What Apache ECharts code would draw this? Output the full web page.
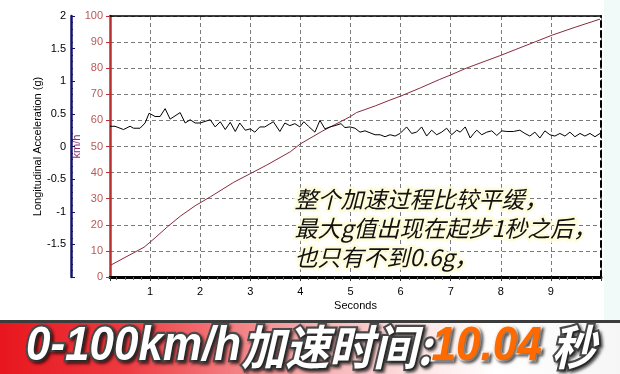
<!DOCTYPE html>
<html><head><meta charset="utf-8">
<script src="https://cdn.jsdelivr.net/npm/echarts@6/dist/echarts.min.js"></script>
<style>html,body{margin:0;padding:0;background:#fff}#c{width:620px;height:374px}</style>
</head><body><div id="c"></div>
<script>
// Speed trace (km/h) vs time (s)
const speedTime = [0.22, 0.5, 0.88, 1.1, 1.35, 1.61, 1.9, 2.21, 2.67, 3.0, 3.33, 3.8, 4.0, 4.43, 4.69, 5.0, 5.12, 5.5, 5.79, 6.0, 6.4, 6.78, 7.0, 7.31, 7.97, 8.3, 8.7, 9.03, 9.5, 9.98];
const speedKmh  = [4.6, 7.5, 11.4, 15.0, 19.3, 23.4, 27.3, 30.8, 36.3, 39.6, 42.9, 48.0, 51.0, 55.8, 58.4, 61.5, 63.0, 65.6, 67.8, 69.3, 72.5, 75.7, 77.4, 80.0, 84.7, 87.2, 90.2, 92.7, 95.8, 98.8];
// Longitudinal acceleration (g) vs time (s)
const accelTime = [0.20,0.30,0.47,0.60,0.67,0.80,0.90,0.98,1.10,1.20,1.30,1.40,1.60,1.70,1.80,1.90,2.00,2.20,2.30,2.40,2.50,2.60,2.70,2.79,2.90,3.00,3.09,3.19,3.29,3.46,3.59,3.69,3.79,3.89,3.99,4.07,4.16,4.29,4.39,4.49,4.59,4.69,4.81,4.89,4.99,5.09,5.19,5.29,5.39,5.49,5.59,5.69,5.79,5.89,5.99,6.12,6.22,6.32,6.42,6.52,6.62,6.72,6.82,6.92,7.02,7.12,7.19,7.29,7.39,7.46,7.52,7.62,7.72,7.82,7.92,8.02,8.12,8.25,8.38,8.48,8.58,8.68,8.78,8.88,8.98,9.08,9.18,9.28,9.38,9.48,9.58,9.68,9.78,9.88,9.98];
const accelG    = [0.31,0.31,0.26,0.31,0.28,0.28,0.36,0.51,0.46,0.46,0.58,0.42,0.52,0.36,0.41,0.36,0.36,0.41,0.30,0.38,0.26,0.37,0.23,0.36,0.25,0.27,0.22,0.30,0.30,0.38,0.23,0.36,0.32,0.35,0.30,0.38,0.31,0.22,0.40,0.27,0.30,0.32,0.35,0.29,0.30,0.28,0.22,0.24,0.21,0.18,0.18,0.15,0.18,0.16,0.20,0.30,0.20,0.22,0.30,0.16,0.25,0.18,0.22,0.28,0.18,0.25,0.22,0.30,0.13,0.20,0.25,0.18,0.22,0.24,0.17,0.24,0.23,0.23,0.25,0.20,0.16,0.22,0.13,0.24,0.18,0.16,0.20,0.16,0.22,0.15,0.20,0.16,0.20,0.15,0.20];
// Tick labels
const xTickLabels = [1, 2, 3, 4, 5, 6, 7, 8, 9];
const gTickLabels = ['2', '1.5', '1', '0.5', '0', '-0.5', '-1', '-1.5'];
// Texts
const annotationLines = ['整个加速过程比较平缓，', '最大g值出现在起步1秒之后，', '也只有不到0.6g，'];
const bannerParts = ['0-100km/h', '加速时间:', '10.04', ' 秒'];

const speedData = speedTime.map((t, i) => [t, speedKmh[i]]);
const accelData = accelTime.map((t, i) => [t, accelG[i]]);
const FONT = 'Liberation Sans, Arial, sans-serif';
const grid = '#7a7a7a';
const outline = {stroke: '#4a4a4a', lineWidth: 4, strokeFirst: true,
  textShadowColor: 'rgba(0,0,0,0.55)', textShadowBlur: 3, textShadowOffsetX: 2, textShadowOffsetY: 2};

const chart = echarts.init(document.getElementById('c'), null, {renderer: 'canvas'});
chart.setOption({
  animation: false,
  backgroundColor: '#fff',
  grid: {left: 110, right: 19, top: 16, bottom: 97, show: false},
  xAxis: [{
    type: 'value', min: 0.2, max: 10, splitNumber: 10, position: 'bottom',
    axisLine: {show: true, onZero: false, lineStyle: {color: '#000', width: 3}},
    axisTick: {show: true, length: 4, lineStyle: {color: '#333'}},
    minorTick: {show: true, splitNumber: 6, length: 3, lineStyle: {color: '#666'}},
    axisLabel: {color: '#000', fontSize: 11, fontFamily: FONT, margin: 9,
      formatter: v => xTickLabels.includes(Math.round(v * 100) / 100) ? String(v) : ''},
    splitLine: {show: true, lineStyle: {type: [4, 3], color: grid, width: 1}},
    name: 'Seconds', nameLocation: 'middle', nameGap: 23, nameMoveOverlap: false,
    nameTextStyle: {color: '#000', fontSize: 11, fontFamily: FONT}
  }, {
    type: 'value', min: 0.2, max: 10, position: 'top',
    axisLine: {show: true, onZero: false, lineStyle: {color: '#000', width: 1.5}},
    axisTick: {show: false}, axisLabel: {show: false}, splitLine: {show: false}
  }],
  yAxis: [{
    type: 'value', min: 0, max: 100, interval: 10, position: 'left', offset: 0,
    axisLine: {show: true, onZero: false, lineStyle: {color: '#b83030', width: 2.5}},
    axisTick: {show: true, length: 4, lineStyle: {color: '#b83030'}},
    axisLabel: {color: '#b85858', fontSize: 11, fontFamily: FONT, margin: 7},
    splitLine: {show: true, lineStyle: {type: [4, 3], color: grid, width: 1}},
    name: 'km/h', nameLocation: 'middle', nameGap: 28, nameRotate: 90, nameMoveOverlap: false,
    nameTextStyle: {color: '#8a2a72', fontSize: 11, fontFamily: FONT}
  }, {
    type: 'value', min: -2, max: 2, interval: 0.5, position: 'left', offset: 39,
    axisLine: {show: true, onZero: false, lineStyle: {color: '#14146e', width: 2.5}},
    axisTick: {show: true, inside: true, length: 4, lineStyle: {color: '#14146e'}},
    minorTick: {show: true, splitNumber: 5, length: 2, lineStyle: {color: '#14146e'}},
    axisLabel: {color: '#000', fontSize: 11, fontFamily: FONT, margin: 5,
      formatter: v => gTickLabels.includes(String(v)) ? String(v) : ''},
    splitLine: {show: false},
    name: 'Longitudinal Acceleration (g)', nameLocation: 'middle', nameGap: 28, nameRotate: 90, nameMoveOverlap: false,
    nameTextStyle: {color: '#000', fontSize: 11, fontFamily: FONT}
  }, {
    type: 'value', min: 0, max: 1, position: 'right',
    axisLine: {show: true, onZero: false, lineStyle: {color: '#000', width: 2, type: [6, 4]}},
    axisTick: {show: false}, axisLabel: {show: false}, splitLine: {show: false}
  }],
  series: [{
    name: 'Speed', type: 'line', xAxisIndex: 0, yAxisIndex: 0, data: speedData,
    showSymbol: false, smooth: false, lineStyle: {color: '#8a2a3c', width: 1}, z: 3
  }, {
    name: 'Acceleration', type: 'line', xAxisIndex: 0, yAxisIndex: 1, data: accelData,
    showSymbol: false, smooth: false, lineStyle: {color: '#000', width: 1}, z: 4
  }],
  graphic: [
    {type: 'rect', left: 604, top: 0, z: 0, shape: {width: 16, height: 320}, style: {fill: '#f2faf9'}},
    {type: 'rect', left: 0, top: 320, z: 10, shape: {width: 620, height: 3}, style: {fill: '#3c3c3c'}},
    {type: 'rect', left: 0, top: 323, z: 10, shape: {width: 620, height: 51},
      style: {fill: {type: 'linear', x: 0, y: 0, x2: 1, y2: 0, colorStops: [
        {offset: 0, color: '#e8161e'}, {offset: 0.2, color: '#ee3a40'}, {offset: 0.45, color: '#f59a9c'},
        {offset: 0.68, color: '#fde6e6'}, {offset: 0.8, color: '#ffffff'}, {offset: 1, color: '#f6f6f6'}]}}},
    {type: 'text', left: 24, top: 321, z: 11, scaleY: 1.08,
      style: {
        text: '{a|' + bannerParts[0] + '}{b|' + bannerParts[1] + '}{c|' + bannerParts[2] + '}{b|' + bannerParts[3] + '}',
        rich: {
          a: Object.assign({fill: '#fff', fontSize: 44, fontWeight: 'bold', fontStyle: 'italic', fontFamily: FONT}, outline),
          b: Object.assign({fill: '#fff', fontSize: 44, fontWeight: 'bold', fontStyle: 'italic', fontFamily: 'Noto Sans CJK SC'}, outline),
          c: Object.assign({fill: '#ff6a00', fontSize: 44, fontWeight: 'bold', fontStyle: 'italic', fontFamily: FONT}, outline, {stroke: '#fff1e6', lineWidth: 3})
        }
      }},
    {type: 'text', left: 292, top: 185, z: 12,
      style: {text: annotationLines.join('\n'), fill: '#111', fontSize: 23, fontStyle: 'italic',
        fontFamily: 'Noto Sans CJK SC', lineHeight: 29, stroke: 'rgba(255,252,215,0.9)', lineWidth: 5, strokeFirst: true}}
  ]
});
</script>
</body></html>
